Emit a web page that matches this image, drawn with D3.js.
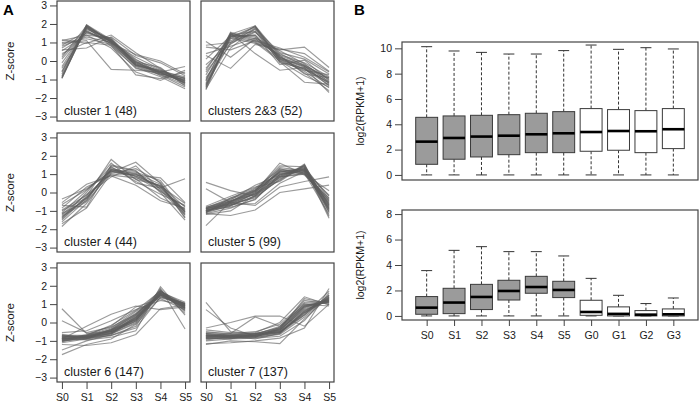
<!DOCTYPE html>
<html><head><meta charset="utf-8">
<script src="https://cdn.jsdelivr.net/npm/d3@7"></script>
<style>body{margin:0;background:#fff}svg{display:block;font-family:"Liberation Sans",Arial,sans-serif}</style>
</head><body>
<svg id="c" width="700" height="405"></svg>
<script>
// ---------- DATA ----------
const stages = ["S0","S1","S2","S3","S4","S5"];
const clusterLabels = ["cluster 1 (48)","clusters 2&3 (52)","cluster 4 (44)","cluster 5 (99)","cluster 6 (147)","cluster 7 (137)"];
const zTicks = [-3,-2,-1,0,1,2,3];

const cluster1 = [
[-0.95,1.90,1.05,-0.15,-0.65,-1.15],[-0.85,1.85,1.10,-0.05,-0.55,-1.05],[-0.70,1.95,1.00,-0.25,-0.70,-1.30],
[-0.55,1.80,1.15,-0.10,-0.60,-1.20],[-0.30,1.75,1.05,0.05,-0.50,-0.95],[-0.10,1.70,1.20,-0.30,-0.75,-1.40],
[0.10,1.65,0.95,-0.20,-0.65,-1.10],[0.30,1.55,1.10,0.00,-0.80,-1.00],[0.55,1.40,1.25,-0.15,-0.55,-0.85],
[0.80,1.30,1.00,0.20,-0.45,-1.25],[1.00,1.20,0.90,-0.40,-0.70,-0.90],[1.15,0.95,1.40,0.45,-0.40,-1.20],
[0.60,0.70,1.30,0.30,-0.10,-0.80],[0.95,1.10,-0.45,-0.50,-0.60,-0.30],[0.40,1.00,0.85,-0.75,-0.95,-0.60],
[-0.80,1.85,0.80,-0.35,-0.85,-1.50],[0.20,1.90,1.05,-0.05,-0.35,-1.35],[-0.40,1.60,0.95,0.35,0.00,-0.70],
[1.10,1.40,0.70,-0.60,-1.05,-0.50],[-0.60,1.95,1.15,-0.20,-0.60,-0.95],[-0.90,1.80,0.90,-0.25,-0.50,-1.10],
[0.70,1.50,1.15,0.10,-0.70,-1.00],[-0.92,1.88,1.00,-0.20,-0.62,-1.18],[0.85,1.60,1.05,-0.10,-0.58,-1.08]];
const cluster23 = [
[-1.55,1.50,1.20,0.20,-0.30,-1.10],[-1.40,1.45,1.05,0.10,-0.45,-1.30],[-1.30,1.00,1.90,0.30,-0.20,-1.00],
[-1.20,1.20,1.85,0.05,-0.55,-1.45],[-1.05,1.55,1.10,0.35,-0.10,-0.85],[-0.90,0.90,1.80,-0.10,-0.40,-1.20],
[-0.75,1.40,1.30,0.25,-0.65,-1.60],[-0.60,1.10,1.70,0.15,-0.30,-0.95],[-0.40,1.30,1.40,-0.20,0.05,-1.05],
[-0.20,0.95,1.55,0.40,-0.25,-1.35],[0.10,1.35,1.00,0.00,-0.50,-0.75],[0.40,0.80,1.25,0.55,-0.15,-1.15],
[0.75,0.60,1.10,0.70,0.20,-0.60],[1.05,0.20,1.20,0.30,-0.70,-0.90],[0.30,-0.40,0.90,0.60,0.75,-0.35],
[-1.00,1.50,0.40,-0.50,-0.35,-1.70],[0.85,1.00,1.60,-0.05,-1.15,-1.25],[-1.50,0.70,1.75,0.45,0.10,-0.70],
[-0.50,1.45,1.90,0.00,-0.80,-1.40],[-1.25,1.25,0.95,0.65,0.40,-0.55],[-1.35,1.40,1.60,0.10,-0.45,-1.15],
[-1.10,1.30,1.85,0.20,-0.25,-0.90],[-1.45,1.35,1.40,0.15,-0.35,-1.20]];
const cluster4 = [
[-1.85,-0.60,1.20,0.90,0.30,-1.00],[-1.60,-0.40,1.35,0.85,0.10,-1.20],[-1.45,-0.20,1.80,0.70,0.40,-0.80],
[-1.30,-0.50,1.10,1.65,0.50,-1.35],[-1.20,-0.10,1.00,1.00,0.20,-0.95],[-1.10,0.10,1.40,0.60,-0.10,-0.70],
[-1.00,-0.30,1.25,1.10,0.65,-1.10],[-0.85,0.30,0.95,0.80,0.35,-0.60],[-0.70,-0.80,1.50,1.20,0.00,-1.50],
[-0.55,0.45,0.90,0.40,-0.45,-0.85],[-0.35,0.20,1.15,0.95,0.80,-0.55],[-1.70,-0.85,1.05,1.30,0.55,-1.25],
[-1.40,0.00,1.60,0.50,0.25,0.75],[-0.95,-0.15,0.85,1.45,0.15,-1.05],[-1.25,-0.35,1.30,0.75,-0.30,-0.90],
[-0.65,0.15,1.20,1.05,0.45,-1.40],[-1.50,-0.25,1.15,0.90,0.35,-1.15],[-1.15,-0.45,1.45,1.15,0.05,-0.75],
[-1.35,-0.30,1.25,1.00,0.30,-1.05]];
const cluster5 = [
[-1.00,-0.60,-0.10,0.90,1.20,-0.60],[-0.90,-0.45,0.05,1.60,1.00,-0.40],[-1.10,-0.70,-0.25,0.70,1.55,-1.00],
[-0.85,-0.30,0.15,1.10,1.30,-0.20],[-1.05,-0.55,-0.05,0.80,1.45,-1.30],[-0.95,-0.80,-0.40,1.00,1.10,-0.80],
[-1.80,-0.50,0.00,1.20,1.25,-0.50],[-0.75,-0.20,0.30,0.60,1.50,-1.10],[-1.20,-1.00,-0.15,1.30,0.95,-0.30],
[-0.80,-0.40,0.40,0.95,1.35,-0.70],[-1.00,-0.65,-0.60,0.50,1.15,-0.90],[-0.90,-0.35,0.10,1.45,1.40,-1.40],
[0.55,0.10,-0.20,0.85,1.00,0.10],[0.20,-0.55,-0.70,0.30,0.60,0.85],[-1.15,-1.25,-0.95,0.00,0.20,0.40],
[-1.00,-0.50,0.20,1.05,1.20,-0.45],[-0.85,-0.60,-0.30,0.75,1.30,-0.65],[-1.05,-0.75,0.00,1.15,1.05,-1.20],
[-0.95,-0.45,-0.10,0.65,1.50,-0.85],[-1.10,-0.30,0.25,1.25,1.15,-0.15],[-1.00,-0.70,-0.20,0.95,1.25,-0.75],
[-0.90,-0.55,0.05,1.10,1.35,-0.95],[-1.15,-0.85,-0.35,0.85,1.05,-0.55],[-0.80,-0.50,0.10,1.35,1.20,-1.05],
[-0.98,-0.62,-0.05,1.00,1.28,-0.70],[-1.08,-0.48,0.12,0.88,1.40,-0.35],[-0.88,-0.68,-0.18,1.18,1.12,-0.88]];
const cluster6 = [
[-0.80,-0.80,-0.50,0.20,1.60,0.90],[-0.90,-0.75,-0.40,0.40,1.70,1.00],[-1.00,-0.85,-0.60,0.00,1.50,0.80],
[-0.70,-0.70,-0.30,0.60,1.40,1.05],[-1.10,-0.90,-0.70,-0.20,1.80,0.60],[-0.75,-0.80,-0.45,0.30,1.55,0.95],
[-0.95,-0.65,-0.20,0.85,1.30,0.70],[-0.85,-0.95,-0.80,-0.45,1.95,0.40],[-1.05,-0.75,-0.55,0.10,1.65,1.10],
[-0.65,-0.85,-0.35,0.50,1.45,0.85],[-1.50,-1.00,-0.65,0.25,1.60,0.75],[-1.75,-1.20,-0.90,-0.10,1.35,1.00],
[-0.55,-0.45,0.10,0.70,1.20,0.95],[0.75,-0.60,-0.50,0.15,1.50,0.90],[0.10,-0.55,-0.25,0.45,1.75,0.50],
[-0.90,-0.20,0.45,0.90,0.70,0.85],[-1.20,-1.25,-1.10,-0.65,0.75,0.95],[-0.80,-0.70,-0.50,0.05,1.85,-0.35],
[-0.95,-0.80,-0.60,0.35,1.60,0.65],[-0.85,-0.90,-0.40,0.15,1.50,1.05],[-1.00,-0.70,-0.15,0.65,1.70,0.80],
[-0.70,-0.85,-0.70,-0.30,1.40,1.00],[-0.88,-0.78,-0.45,0.25,1.58,0.88],[-0.78,-0.82,-0.55,0.10,1.62,0.92],
[-0.92,-0.72,-0.38,0.45,1.52,0.78],[-0.82,-0.76,-0.48,0.18,1.66,0.96],[-0.96,-0.84,-0.58,0.28,1.56,0.84],
[-0.74,-0.78,-0.42,0.38,1.48,1.02],[-1.02,-0.88,-0.62,-0.05,1.72,0.72]];
const cluster7 = [
[-0.70,-0.75,-0.70,-0.40,0.70,1.20],[-0.80,-0.80,-0.75,-0.55,0.50,1.30],[-0.60,-0.70,-0.65,-0.20,0.95,1.10],
[-0.90,-0.85,-0.80,-0.65,0.30,1.45],[-0.50,-0.65,-0.60,-0.30,1.20,1.00],[-1.00,-0.90,-0.85,-0.75,0.10,1.60],
[-0.75,-0.70,-0.55,0.00,1.40,0.95],[-0.65,-0.80,-0.70,-0.45,0.80,1.25],[-0.85,-0.75,-0.90,-0.60,0.60,1.35],
[-0.55,-0.60,-0.50,-0.10,1.10,1.15],[-1.15,-1.10,-1.00,-0.85,-0.30,1.85],[-0.40,-0.55,-0.65,-0.50,0.40,1.50],
[1.10,-0.50,-0.60,-0.40,0.85,1.20],[0.70,-0.30,-0.75,-0.55,0.55,1.30],[-0.30,0.00,0.35,0.35,-0.20,1.00],
[-0.80,-0.60,0.30,-0.20,1.00,0.90],[-1.20,-1.00,-1.05,-1.15,0.20,1.40],[-0.70,-0.85,-0.75,-0.35,1.30,1.05],
[-0.95,-0.75,-0.70,-0.50,0.45,1.70],[-0.60,-0.70,-0.80,-0.25,0.90,1.15],[-0.85,-0.90,-0.60,-0.55,0.65,1.25],
[-0.72,-0.78,-0.68,-0.42,0.75,1.22],[-0.78,-0.72,-0.72,-0.48,0.62,1.32],[-0.68,-0.82,-0.78,-0.32,0.85,1.12],
[-0.88,-0.80,-0.74,-0.52,0.55,1.38],[-0.62,-0.74,-0.66,-0.36,0.92,1.18],[-0.82,-0.86,-0.82,-0.60,0.40,1.48],
[-0.74,-0.68,-0.62,-0.28,1.05,1.08]];
const clusters = [cluster1, cluster23, cluster4, cluster5, cluster6, cluster7];

// Panel B boxplots
const samples = ["S0","S1","S2","S3","S4","S5","G0","G1","G2","G3"];
const isStage = [true,true,true,true,true,true,false,false,false,false];
// [min, Q1, median, Q3, max]
const allGenes = [
[0,0.84,2.63,4.55,10.13],[0,1.24,2.92,4.66,9.79],[0,1.42,3.03,4.71,9.68],[0,1.60,3.10,4.76,9.55],
[0,1.76,3.21,4.87,9.55],[0,1.76,3.29,5.00,9.82],[0,1.87,3.39,5.24,10.26],[0,1.95,3.47,5.16,9.92],
[0,1.76,3.45,5.08,10.05],[0,2.08,3.61,5.24,9.95]];
const clusterGenes = [
[0,0.13,0.65,1.52,3.56],[0,0.18,1.05,2.17,5.15],[0,0.50,1.49,2.48,5.44],[0,1.25,1.96,2.80,5.05],
[0,1.78,2.27,3.11,5.05],[0,1.44,2.04,2.72,4.71],[0,0.05,0.31,1.23,2.95],[0,0.00,0.16,0.71,1.62],
[0,0.00,0.10,0.42,0.97],[0,0.00,0.13,0.55,1.41]];
const topTicks = [0,2,4,6,8,10];
const bottomTicks = [0,2,4,6,8];

// ---------- DRAW ----------
const svg = d3.select("#c");
const fmt = d => (d < 0 ? "\u2212" + Math.abs(d) : String(d));
const frameCol = "#444";
const txtCol = "#1a1a1a";

svg.append("text").attr("x",3).attr("y",15).attr("font-size",15).attr("font-weight","bold").text("A");
svg.append("text").attr("x",354).attr("y",15).attr("font-size",15).attr("font-weight","bold").text("B");

const colX = [[57,190],[201,334]];
const rowY = [[1,121],[133,252],[263,382]];
const line = d3.line();

function styleAxis(a) {
  a.select(".domain").remove();
  a.selectAll("text").attr("font-size",10.5).attr("fill",txtCol).attr("font-family","Liberation Sans, Arial, sans-serif");
  a.selectAll("line").attr("stroke",frameCol);
}

clusters.forEach((data, i) => {
  const r = Math.floor(i/2), c = i % 2;
  const [x0,x1] = colX[c], [y0,y1] = rowY[r];
  const xl = d3.scaleLinear().domain([-0.2,5.2]).range([x0,x1]);
  const y = d3.scaleLinear().domain([-3.24,3.24]).range([y1,y0]);
  const g = svg.append("g");
  g.append("defs").append("clipPath").attr("id","cp"+i).append("rect")
    .attr("x",x0).attr("y",y0).attr("width",x1-x0).attr("height",y1-y0);
  const lg = g.append("g").attr("clip-path","url(#cp"+i+")");
  lg.selectAll("path").data(data).enter().append("path")
    .attr("d", d => line(d.map((v,k) => [xl(k), y(v)])))
    .attr("fill","none").attr("stroke","#5e5e5e").attr("stroke-width",1.15).attr("stroke-opacity",0.62);
  g.append("rect").attr("x",x0).attr("y",y0).attr("width",x1-x0).attr("height",y1-y0)
    .attr("fill","none").attr("stroke",frameCol).attr("stroke-width",1.2);
  g.append("text").attr("x",x0+7).attr("y",y1-6).attr("font-size",12.5).attr("fill",txtCol).text(clusterLabels[i]);
  if (c === 0) {
    const ax = d3.axisLeft(y).tickValues(zTicks).tickFormat(fmt).tickSize(7).tickPadding(3);
    styleAxis(svg.append("g").attr("transform",`translate(${x0},0)`).call(ax));
    svg.append("text").attr("transform",`translate(14,${(y0+y1)/2}) rotate(-90)`)
      .attr("text-anchor","middle").attr("font-size",11.5).attr("fill",txtCol).text("Z-score");
  }
  if (r === 2) {
    const ax = d3.axisBottom(xl).tickValues([0,1,2,3,4,5]).tickFormat(k => stages[k]).tickSize(7).tickPadding(5);
    styleAxis(svg.append("g").attr("transform",`translate(0,${y1})`).call(ax));
  }
});

function boxPanel(data, y0, y1, dom, ticks, showX) {
  const x0 = 402, x1 = 698;
  const x = d3.scaleLinear().domain([0.1,10.9]).range([x0,x1]);
  const y = d3.scaleLinear().domain(dom).range([y1,y0]);
  const hw = x(0.4) - x(0), cw = x(0.2) - x(0);
  const g = svg.append("g");
  data.forEach((d,i) => {
    const cx = x(i+1);
    const [mn,q1,md,q3,mx] = d;
    g.append("line").attr("x1",cx).attr("x2",cx).attr("y1",y(q3)).attr("y2",y(mx))
      .attr("stroke","#333").attr("stroke-dasharray","3,2").attr("stroke-width",1);
    g.append("line").attr("x1",cx).attr("x2",cx).attr("y1",y(q1)).attr("y2",y(mn))
      .attr("stroke","#333").attr("stroke-dasharray","3,2").attr("stroke-width",1);
    g.append("line").attr("x1",cx-cw).attr("x2",cx+cw).attr("y1",y(mx)).attr("y2",y(mx)).attr("stroke","#333");
    g.append("line").attr("x1",cx-cw).attr("x2",cx+cw).attr("y1",y(mn)).attr("y2",y(mn)).attr("stroke","#333");
    g.append("rect").attr("x",cx-hw).attr("width",2*hw).attr("y",y(q3)).attr("height",Math.max(0.5,y(q1)-y(q3)))
      .attr("fill", isStage[i] ? "#9b9b9b" : "#ffffff").attr("stroke","#3a3a3a").attr("stroke-width",1);
    g.append("line").attr("x1",cx-hw).attr("x2",cx+hw).attr("y1",y(md)).attr("y2",y(md))
      .attr("stroke","#000").attr("stroke-width",2.6);
  });
  g.append("rect").attr("x",x0).attr("y",y0).attr("width",x1-x0).attr("height",y1-y0)
    .attr("fill","none").attr("stroke",frameCol).attr("stroke-width",1.2);
  const ay = d3.axisLeft(y).tickValues(ticks).tickSize(7).tickPadding(3);
  styleAxis(svg.append("g").attr("transform",`translate(${x0},0)`).call(ay));
  svg.append("text").attr("transform",`translate(364,${(y0+y1)/2}) rotate(-90)`)
    .attr("text-anchor","middle").attr("font-size",10.5).attr("fill",txtCol).text("log2(RPKM+1)");
  if (showX) {
    const ax = d3.axisBottom(x).tickValues(d3.range(1,11)).tickFormat(k => samples[k-1]).tickSize(6).tickPadding(6);
    styleAxis(svg.append("g").attr("transform",`translate(0,${y1})`).call(ax));
  }
}
boxPanel(allGenes, 42, 180, [-0.4,10.5], topTicks, false);
boxPanel(clusterGenes, 210, 320, [-0.32,8.32], bottomTicks, true);
</script>
</body></html>
